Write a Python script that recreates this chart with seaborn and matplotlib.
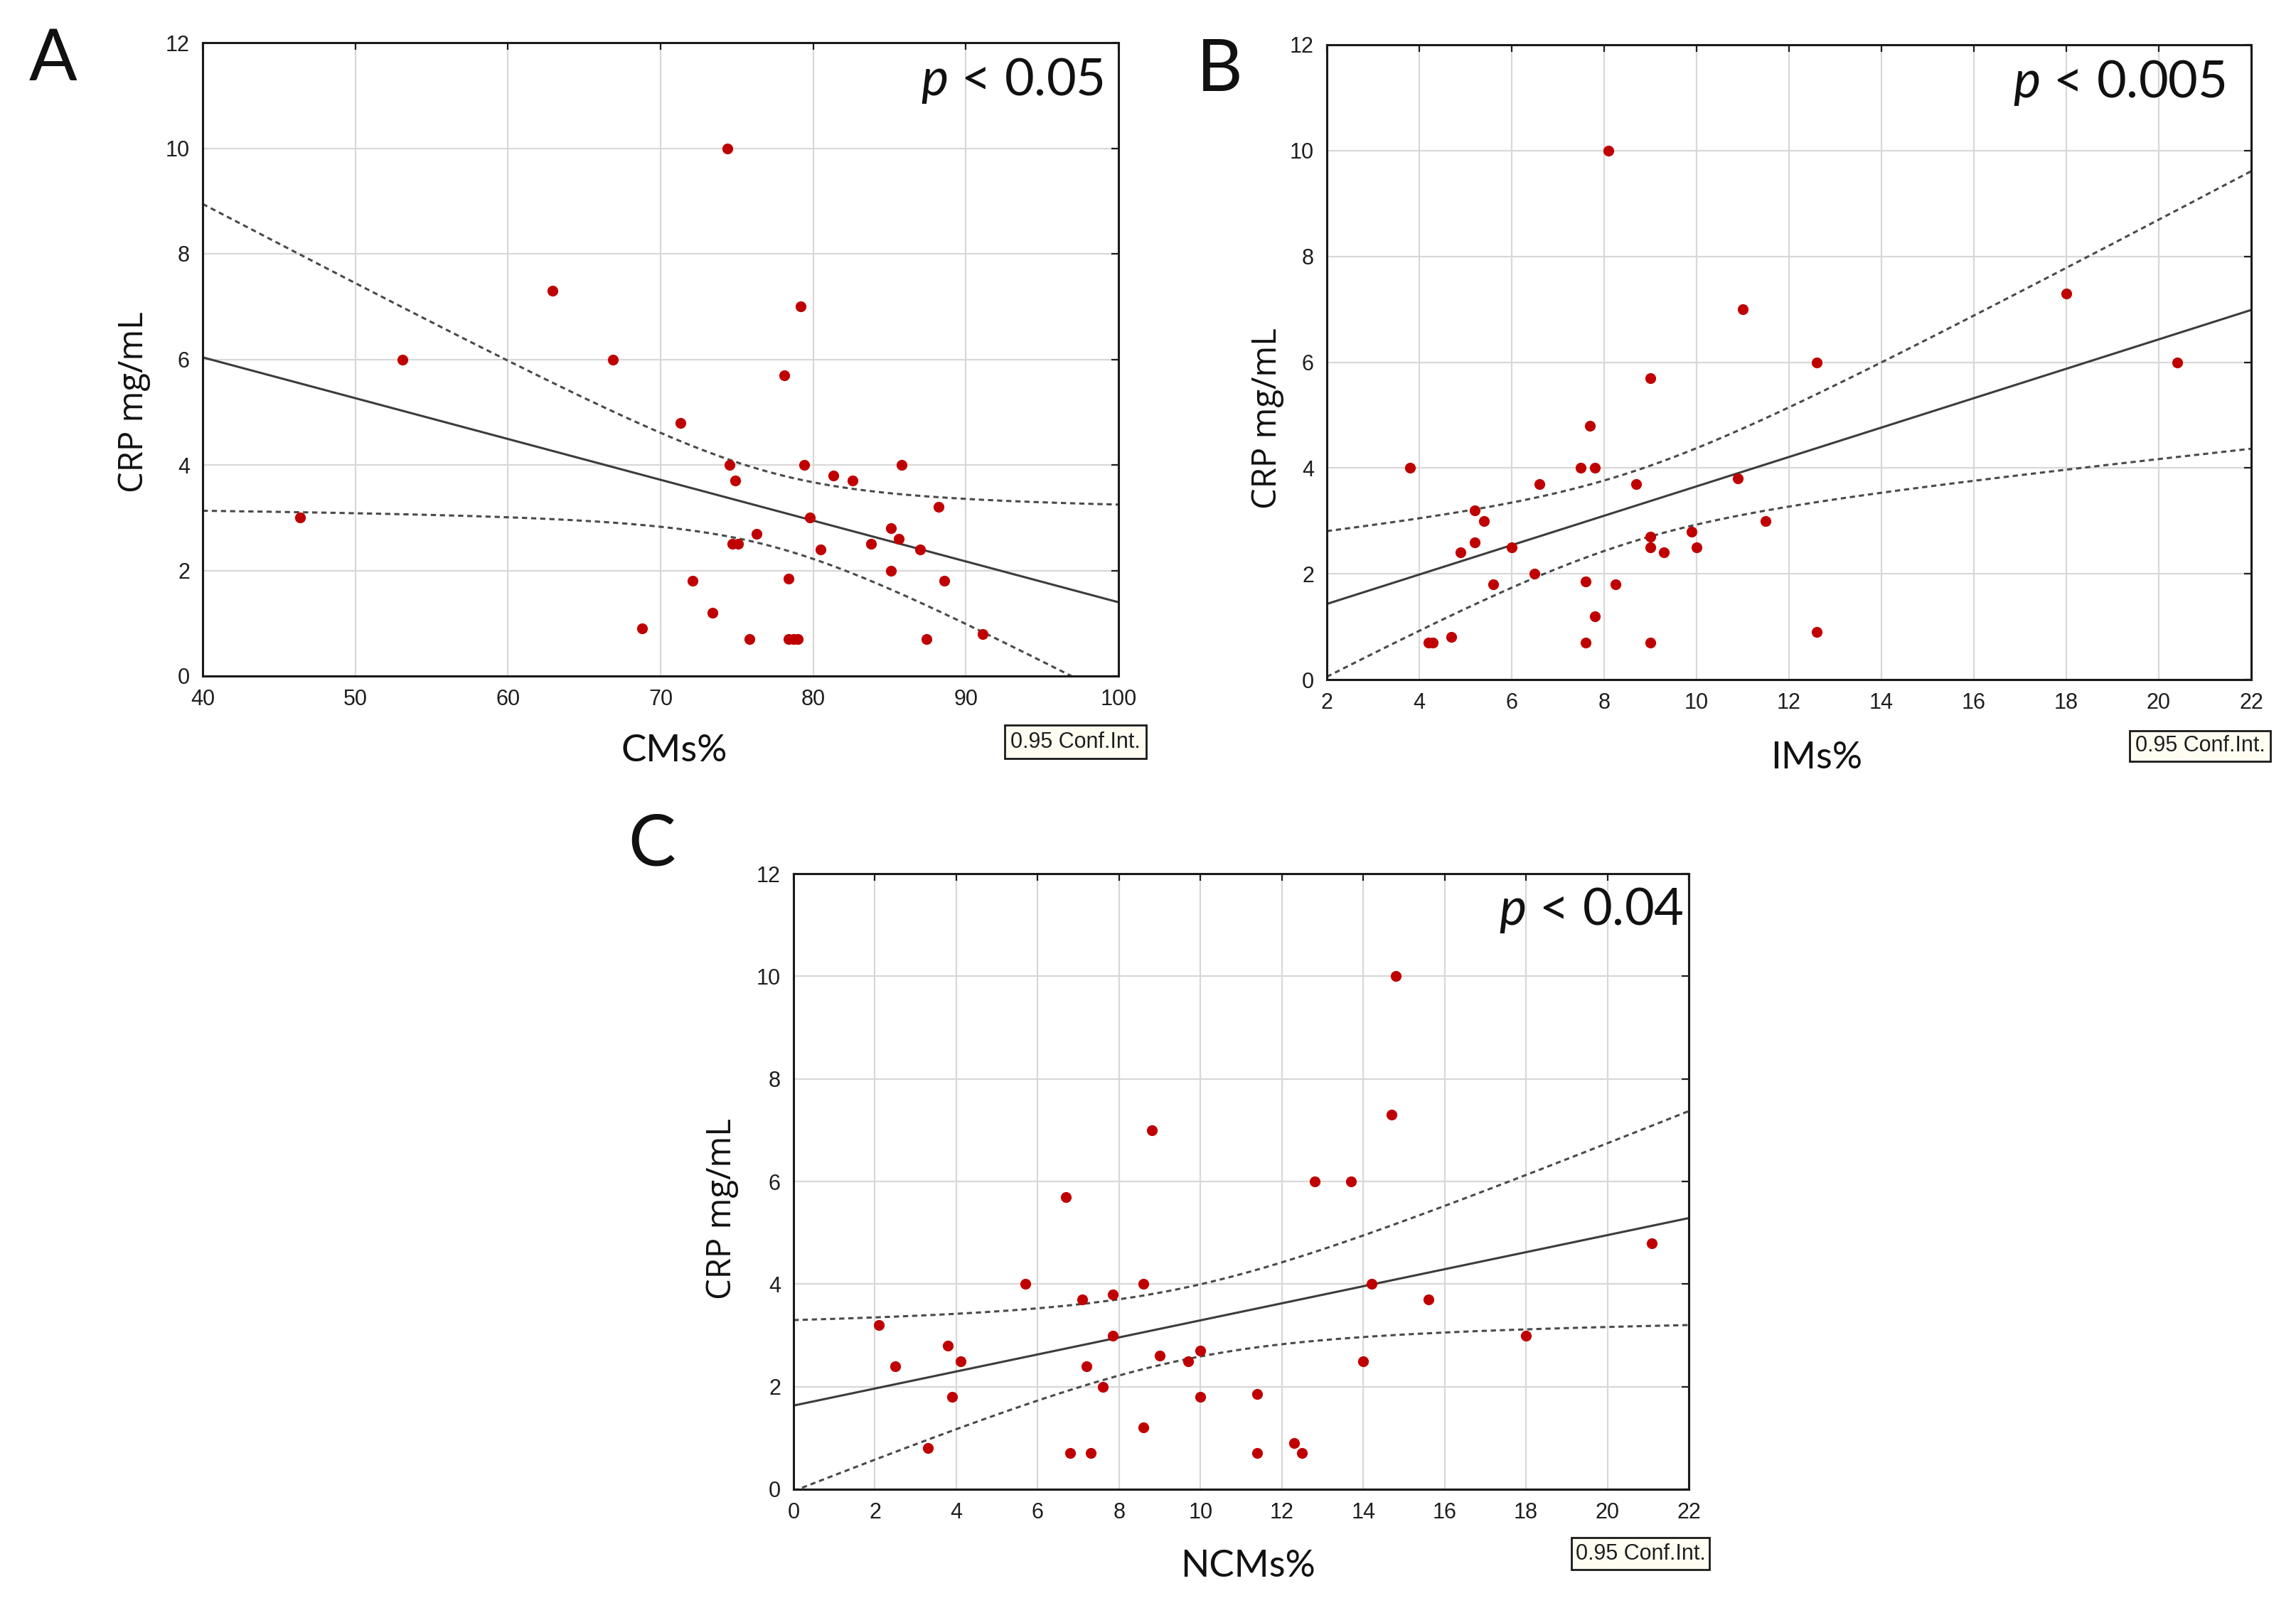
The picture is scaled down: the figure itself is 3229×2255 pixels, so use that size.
import numpy as np
import pandas as pd
import seaborn as sns
import matplotlib.pyplot as plt
from matplotlib.patches import Rectangle

# --- data ----------------------------------------------------------------
# panel A : CMs% vs CRP
cms_pct = [46.4, 53.1, 62.9, 66.9, 68.8, 71.3, 72.1, 73.4, 74.4, 74.5, 74.9,
           74.7, 75.1, 75.8, 76.3, 78.1, 78.4, 78.4, 78.7, 79.0, 79.2, 79.4,
           79.8, 80.5, 81.3, 82.6, 83.8, 85.1, 85.1, 85.6, 85.8, 87.0, 87.4,
           88.2, 88.6, 91.1]
cms_crp = [3.0, 6.0, 7.3, 6.0, 0.9, 4.8, 1.8, 1.2, 10.0, 4.0, 3.7,
           2.5, 2.5, 0.7, 2.7, 5.7, 1.85, 0.7, 0.7, 0.7, 7.0, 4.0,
           3.0, 2.4, 3.8, 3.7, 2.5, 2.8, 2.0, 2.6, 4.0, 2.4, 0.7,
           3.2, 1.8, 0.8]

# panel B : IMs% vs CRP
ims_pct = [3.8, 4.2, 4.3, 4.7, 4.9, 5.2, 5.2, 5.4, 5.6, 6.0, 6.5, 6.6, 7.5,
           7.6, 7.6, 7.7, 7.8, 7.8, 8.1, 8.25, 8.7, 9.0, 9.0, 9.0, 9.0, 9.3,
           9.9, 10.0, 10.9, 11.0, 11.5, 12.6, 12.6, 18.0, 20.4]
ims_crp = [4.0, 0.7, 0.7, 0.8, 2.4, 3.2, 2.6, 3.0, 1.8, 2.5, 2.0, 3.7, 4.0,
           1.85, 0.7, 4.8, 4.0, 1.2, 10.0, 1.8, 3.7, 5.7, 2.7, 2.5, 0.7, 2.4,
           2.8, 2.5, 3.8, 7.0, 3.0, 6.0, 0.9, 7.3, 6.0]

# panel C : NCMs% vs CRP
ncms_pct = [2.1, 2.5, 3.3, 3.8, 3.9, 4.1, 5.7, 6.7, 6.8, 7.1, 7.2, 7.3, 7.6,
            7.85, 7.85, 8.6, 8.6, 8.8, 9.0, 9.7, 10.0, 10.0, 11.4, 11.4, 12.3,
            12.5, 12.8, 13.7, 14.0, 14.2, 14.7, 14.8, 15.6, 18.0, 21.1]
ncms_crp = [3.2, 2.4, 0.8, 2.8, 1.8, 2.5, 4.0, 5.7, 0.7, 3.7, 2.4, 0.7, 2.0,
            3.8, 3.0, 4.0, 1.2, 7.0, 2.6, 2.5, 2.7, 1.8, 1.85, 0.7, 0.9,
            0.7, 6.0, 6.0, 2.5, 4.0, 7.3, 10.0, 3.7, 3.0, 4.8]

panel_letters = ["A", "B", "C"]
x_titles = ["CMs%", "IMs%", "NCMs%"]
p_texts = [r"$p$ < 0.05", r"$p$ < 0.005", r"$p$ < 0.04"]
x_ticks = [np.arange(40, 101, 10), np.arange(2, 23, 2), np.arange(0, 23, 2)]
y_ticks = np.arange(0, 13, 2)
y_title = "CRP mg/mL"
ci_label = "0.95 Conf.Int."
T975 = 2.035  # two-sided 95% t quantile, ~33 df

# --- style ---------------------------------------------------------------
sns.set_style("white")
plt.rcParams["font.family"] = ["Liberation Sans Narrow", "Liberation Sans", "DejaVu Sans"]
plt.rcParams["mathtext.fontset"] = "custom"
plt.rcParams["mathtext.it"] = "Lato:italic"
plt.rcParams["mathtext.rm"] = "Lato"

W, H = 3230, 2255
fig = plt.figure(figsize=(W / 100, H / 100), dpi=100)
fig.patch.set_facecolor("white")


def px_box(x0, y0, x1, y1):
    return [x0 / W, 1 - y1 / H, (x1 - x0) / W, (y1 - y0) / H]


panels = [
    dict(x=cms_pct, y=cms_crp, box=(285, 60, 1573, 951), letter=(41, 113),
         xlab=(0.515, -0.135), ylab=(-0.0753, 0.433), p_x=0.984,
         ci_box=(1413, 1020, 1612, 1067)),
    dict(x=ims_pct, y=ims_crp, box=(1866, 63, 3166, 956), letter=(1683, 128),
         xlab=(0.530, -0.140), ylab=(-0.0646, 0.411), p_x=0.972,
         ci_box=(2995, 1028, 3193, 1071)),
    dict(x=ncms_pct, y=ncms_crp, box=(1116, 1229, 2375, 2095), letter=(883, 1217),
         xlab=(0.5075, -0.142), ylab=(-0.080, 0.455), p_x=0.994,
         ci_box=(2210, 2163, 2404, 2208)),
]


def fit_band(x, y, grid):
    x = np.asarray(x, float)
    y = np.asarray(y, float)
    n = len(x)
    b, a = np.polyfit(x, y, 1)
    s = np.sqrt(np.sum((y - (a + b * x)) ** 2) / (n - 2))
    sxx = np.sum((x - x.mean()) ** 2)
    yhat = a + b * grid
    half = T975 * s * np.sqrt(1 / n + (grid - x.mean()) ** 2 / sxx)
    return yhat, yhat - half, yhat + half


for i, pn in enumerate(panels):
    ax = fig.add_axes(px_box(*pn["box"]))
    xt = x_ticks[i]
    grid = np.linspace(xt[0], xt[-1], 300)
    yhat, lo, hi = fit_band(pn["x"], pn["y"], grid)
    fits = pd.DataFrame({"x": grid, "fit": yhat, "lo": lo, "hi": hi})

    sns.lineplot(data=fits, x="x", y="fit", ax=ax, color="#3c3c3c", lw=2.2,
                 zorder=2)
    for col in ["lo", "hi"]:
        sns.lineplot(data=fits, x="x", y=col, ax=ax, color="#4a4a4a", lw=2.2,
                     linestyle=(0, (2.4, 1.8)), zorder=2)
    sns.scatterplot(x=pn["x"], y=pn["y"], ax=ax, color="#c00000", s=120,
                    linewidth=0, zorder=3)

    ax.set_xlim(xt[0], xt[-1])
    ax.set_ylim(0, 12)
    ax.set_xticks(xt)
    ax.set_yticks(y_ticks)
    ax.grid(True, color="#d8d8d8", lw=1.6)
    ax.set_axisbelow(True)
    ax.tick_params(direction="in", length=7, width=1.6, top=True, right=True,
                   labelsize=22, pad=13, colors="#1e1e1e")
    for sp in ax.spines.values():
        sp.set_linewidth(2.2)
        sp.set_color("#1a1a1a")

    ax.set_xlabel(x_titles[i], family="Lato", fontsize=38, color="#111")
    ax.xaxis.set_label_coords(*pn["xlab"])
    ax.xaxis.label.set_va("baseline")
    ax.set_ylabel(y_title, family="Open Sans", fontsize=34, color="#111")
    ax.yaxis.set_label_coords(*pn["ylab"])
    ax.yaxis.label.set_va("center")

    ax.text(pn["p_x"], 11.0, p_texts[i], transform=ax.get_yaxis_transform(),
            ha="right", va="baseline", family="Lato", fontsize=52, color="#111")

    lx, ly = pn["letter"]
    fig.text(lx / W, 1 - ly / H, panel_letters[i], family="Lato", fontsize=72,
             ha="left", va="baseline", color="#111")

    bx0, by0, bx1, by1 = pn["ci_box"]
    fig.patches.append(Rectangle((bx0 / W, 1 - by1 / H), (bx1 - bx0) / W,
                                 (by1 - by0) / H, transform=fig.transFigure,
                                 facecolor="#fffdf2", edgecolor="#1a1a1a",
                                 lw=2.0))
    fig.text((bx0 + bx1) / 2 / W, 1 - (by0 + by1) / 2 / H, ci_label,
             ha="center", va="center", fontsize=22, color="#1e1e1e")

fig.savefig("out.png", dpi=100)
